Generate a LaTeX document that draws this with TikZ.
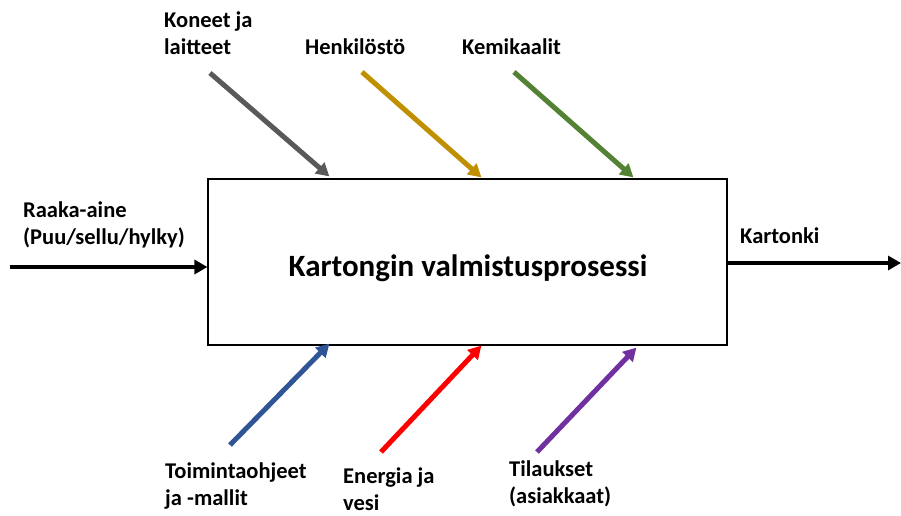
\documentclass[tikz,border=0pt]{standalone}
\usepackage{fontspec}
\setmainfont{Carlito}
\usetikzlibrary{arrows.meta,calc}
\definecolor{cgray}{HTML}{595959}
\definecolor{cgold}{HTML}{BF9000}
\definecolor{cgreen}{HTML}{548235}
\definecolor{cblue}{HTML}{2F5597}
\definecolor{cred}{HTML}{FF0000}
\definecolor{cpurple}{HTML}{7030A0}
\begin{document}
\begin{tikzpicture}[x=1pt,y=-1pt,
  flow/.style={line width=5pt,-{Triangle[length=13pt,width=14pt]}},
  lbl/.style={font=\fontsize{22.5}{27}\selectfont\bfseries,align=left,inner sep=0pt,anchor=base west},
  procbox/.style={draw,line width=1.2pt,minimum width=519pt,minimum height=166pt,inner sep=0pt}]
  \useasboundingbox (0,0) rectangle (901,516);
  % process box
  \node[procbox] (box) at (467.5,262) {};
  \node[font=\fontsize{31}{36}\selectfont\bfseries,anchor=base] (title) at (468,276) {Kartongin valmistusprosessi};
  % free ends of the arrows
  \coordinate (inL) at (10,267);
  \coordinate (outR) at (901,263);
  \coordinate (koS) at (210,73);
  \coordinate (heS) at (362,72);
  \coordinate (keS) at (514,72);
  \coordinate (toS) at (230,445);
  \coordinate (enS) at (381,452);
  \coordinate (tiS) at (537,452);
  % main flow
  \draw[flow,line width=4pt] (inL) -- (inL -| box.west);
  \draw[flow,line width=4pt] (outR -| box.east) -- (outR);
  % resources from above
  \draw[flow,cgray] (koS) -- ($(box.north west)+(122,-2)$);
  \draw[flow,cgold] (heS) -- ($(box.north west)+(274,-1)$);
  \draw[flow,cgreen] (keS) -- ($(box.north west)+(426,-1)$);
  % resources from below
  \draw[flow,cblue] (toS) -- ($(box.south west)+(122,-2)$);
  \draw[flow,cred] (enS) -- ($(box.south west)+(274,0)$);
  \draw[flow,cpurple] (tiS) -- ($(box.south west)+(429,2)$);
  % labels (base anchor sits on the baseline of the last line)
  \node[lbl] (ko) at (164,55) {Koneet ja\\laitteet};
  \node[lbl] (he) at (305,55) {Henkilöstö};
  \node[lbl] (ke) at (462,55) {Kemikaalit};
  \node[lbl] (ra) at (23,244) {Raaka-aine\\(Puu/sellu/hylky)};
  \node[lbl] (ka) at (740,243) {Kartonki};
  \node[lbl] (to) at (165,505) {Toimintaohjeet\\ja -mallit};
  \node[lbl] (en) at (343,510) {Energia ja\\vesi};
  \node[lbl] (ti) at (509,503) {Tilaukset\\(asiakkaat)};
\end{tikzpicture}
\end{document}
